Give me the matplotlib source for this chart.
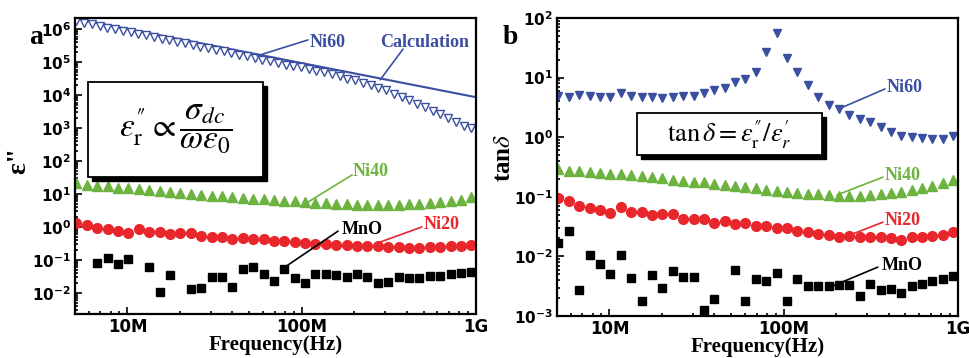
import numpy as np
import matplotlib
matplotlib.use("Agg")
import matplotlib.pyplot as plt
from matplotlib.patches import Rectangle
from matplotlib.ticker import FixedLocator, LogLocator, FuncFormatter, NullFormatter

plt.rcParams['mathtext.fontset'] = 'dejavusans'

# frequency sweep (Hz)
freq = np.geomspace(5.1e6, 9.4e8, 39)
freq_ni60a = np.geomspace(5.1e6, 9.4e8, 52)
calc_freq = [5.0e6, 1.0e9]

# panel a: imaginary permittivity
eps_ni60 = [1.8e6, 1.6e6, 1.4e6, 1.26e6, 1.12e6, 1.02e6, 9.1e5, 8.1e5, 7.2e5, 6.5e5,
            5.9e5, 5.2e5, 4.7e5, 4.2e5, 3.8e5, 3.4e5, 3.0e5, 2.7e5, 2.4e5, 2.15e5,
            1.9e5, 1.7e5, 1.5e5, 1.35e5, 1.2e5, 1.07e5, 9.3e4, 8.5e4, 7.9e4, 7.1e4,
            6.3e4, 5.5e4, 4.9e4, 4.3e4, 3.7e4, 3.2e4, 2.8e4, 2.4e4, 2.0e4, 1.7e4,
            1.4e4, 1.1e4, 8.9e3, 7.1e3, 5.5e3, 4.3e3, 3.3e3, 2.6e3, 2.0e3, 1.55e3,
            1.2e3, 1.0e3]
eps_calc = [2.1e6, 8.7e3]
eps_ni40 = [21, 19, 17.8, 17, 15.8, 14.8, 13.8, 13.2, 12.3, 11.5,
            10.7, 10.0, 9.5, 8.9, 8.5, 8.1, 7.6, 7.2, 6.9, 6.6,
            6.3, 6.0, 5.75, 5.5, 5.25, 5.0, 4.9, 4.8, 4.7, 4.7,
            4.7, 4.8, 4.9, 5.0, 5.25, 5.6, 6.0, 6.8, 7.9]
eps_ni20 = [1.32, 1.15, 0.93, 0.87, 0.76, 0.66, 0.87, 0.71, 0.71, 0.62,
            0.66, 0.66, 0.54, 0.50, 0.50, 0.44, 0.47, 0.44, 0.44, 0.38,
            0.38, 0.35, 0.33, 0.30, 0.30, 0.28, 0.28, 0.26, 0.26, 0.26,
            0.245, 0.245, 0.23, 0.23, 0.245, 0.245, 0.26, 0.26, 0.28]
eps_mno = [np.nan, np.nan, 0.081, 0.115, 0.076, 0.107, np.nan, 0.062, 0.0107, 0.035,
           np.nan, 0.013, 0.014, 0.030, 0.030, 0.015, 0.054, 0.062, 0.038, 0.023,
           0.054, 0.028, 0.020, 0.038, 0.038, 0.035, 0.030, 0.038, 0.030, 0.020,
           0.021, 0.030, 0.028, 0.028, 0.033, 0.033, 0.038, 0.041, 0.044]

# panel b: loss tangent
tan_ni60 = [5.0, 4.7, 5.2, 5.0, 4.8, 4.8, 5.6, 5.0, 4.7, 4.7,
            4.5, 4.8, 5.0, 5.0, 5.6, 6.3, 6.6, 8.3, 9.3, 12.6,
            27, 55, 21, 12.6, 7.6, 4.7, 3.5, 3.0, 2.4, 2.0,
            1.8, 1.5, 1.2, 1.05, 1.02, 0.98, 0.93, 0.95, 1.05]
tan_ni40 = [0.295, 0.275, 0.27, 0.263, 0.25, 0.245, 0.24, 0.234, 0.224, 0.214,
            0.204, 0.195, 0.186, 0.178, 0.174, 0.166, 0.158, 0.151, 0.145, 0.138,
            0.132, 0.126, 0.120, 0.117, 0.112, 0.110, 0.107, 0.105, 0.105, 0.105,
            0.107, 0.110, 0.115, 0.120, 0.129, 0.138, 0.151, 0.170, 0.195]
tan_ni20 = [0.095, 0.085, 0.071, 0.066, 0.059, 0.054, 0.068, 0.056, 0.056, 0.050,
            0.052, 0.052, 0.043, 0.042, 0.042, 0.037, 0.040, 0.035, 0.037, 0.033,
            0.033, 0.030, 0.030, 0.027, 0.026, 0.024, 0.023, 0.021, 0.022, 0.021,
            0.021, 0.021, 0.020, 0.019, 0.021, 0.021, 0.022, 0.023, 0.026]
tan_mno = [0.0166, 0.027, 0.0027, 0.0105, 0.0076, 0.0050, 0.0107, 0.0043, 0.0018, 0.0048,
           0.0030, 0.0056, 0.0045, 0.0045, 0.00126, 0.0019, np.nan, 0.0060, 0.0018, 0.0042,
           0.0038, 0.0052, 0.0018, 0.0042, 0.0032, 0.0032, 0.0032, 0.0033, 0.0033, 0.0022,
           0.0035, 0.0027, 0.0028, 0.0024, 0.0032, 0.0035, 0.0038, 0.0042, 0.0047]

xticks = [1e7, 1e8, 1e9]
xticklabels = ['10M', '100M', '1G']

BLUE = '#3B4FA0'
GREEN = '#6DB33F'
RED = '#E9262B'
BLACK = 'black'
SERIF = 'Liberation Serif'
SANS = 'DejaVu Sans'
DPRIME = '\u2033'
PRIME = '\u2032'


def sci(v, pos):
    return r'$\mathbf{10^{%d}}$' % int(round(np.log10(v)))


def style_axes(ax, ylim, ymajor):
    ax.set_xscale('log')
    ax.set_yscale('log')
    ax.set_xlim(5e6, 1e9)
    ax.set_ylim(*ylim)
    ax.xaxis.set_major_locator(FixedLocator(xticks))
    ax.set_xticklabels(xticklabels, fontsize=12, fontweight='bold', family=SANS)
    ax.xaxis.set_minor_locator(LogLocator(subs=range(2, 10), numticks=20))
    ax.xaxis.set_minor_formatter(NullFormatter())
    ax.yaxis.set_major_locator(FixedLocator(ymajor))
    ax.yaxis.set_major_formatter(FuncFormatter(sci))
    ax.yaxis.set_minor_locator(LogLocator(subs=range(2, 10), numticks=30))
    ax.yaxis.set_minor_formatter(NullFormatter())
    for lab in ax.get_yticklabels():
        lab.set_fontsize(11)
    ax.tick_params(which='both', direction='in', top=False, right=False, width=1.2)
    ax.tick_params(which='major', length=5, pad=3)
    ax.tick_params(which='minor', length=2.5)
    for s in ax.spines.values():
        s.set_linewidth(1.6)
    ax.set_xlabel('Frequency(Hz)', family=SERIF, fontweight='bold', fontsize=15, labelpad=-1)


def shadow_box(ax, x0, y0, x1, y1, text, fs):
    dx, dy = 0.011, 0.014
    ax.add_patch(Rectangle((x0 + dx, y0 - dy), x1 - x0, y1 - y0, transform=ax.transAxes,
                           facecolor='black', edgecolor='black', zorder=5, clip_on=False))
    ax.add_patch(Rectangle((x0, y0), x1 - x0, y1 - y0, transform=ax.transAxes,
                           facecolor='white', edgecolor='black', lw=1.3, zorder=6, clip_on=False))
    ax.text((x0 + x1) / 2, (y0 + y1) / 2, text, transform=ax.transAxes, ha='center', va='center',
            fontsize=fs, math_fontfamily='stix', zorder=7)


def label(ax, text, color, tpos, start, end):
    ax.annotate('', xy=end, xytext=start, xycoords='axes fraction', textcoords='axes fraction',
                arrowprops=dict(arrowstyle='-', color=color, lw=1.2, shrinkA=0, shrinkB=0))
    ax.text(tpos[0], tpos[1], text, transform=ax.transAxes, color=color, family=SERIF,
            fontweight='bold', fontsize=13, ha='left', va='center')


fig = plt.figure(figsize=(9.69, 3.58), dpi=100)
ax1 = fig.add_axes([0.0774, 0.1229, 0.4138, 0.8268])
ax2 = fig.add_axes([0.5748, 0.1173, 0.4138, 0.8324])

# ---- panel a
ax1.plot(calc_freq, eps_calc, color=BLUE, lw=1.5)
ax1.plot(freq_ni60a, eps_ni60, 'v', ms=5.5, mfc='white', mec=BLUE, mew=1.0)
ax1.plot(freq, eps_ni40, '^', ms=6.5, color=GREEN, mec=GREEN)
ax1.plot(freq, eps_ni20, 'o', ms=7, color=RED, mec=RED)
ax1.plot(freq, eps_mno, 's', ms=6, color=BLACK)
style_axes(ax1, (2.3e-3, 2.2e6), [1e-2, 1e-1, 1, 1e1, 1e2, 1e3, 1e4, 1e5, 1e6])

label(ax1, 'Ni60', BLUE, (0.586, 0.916), (0.581, 0.926), (0.454, 0.872))
label(ax1, 'Calculation', BLUE, (0.760, 0.916), (0.818, 0.895), (0.761, 0.791))
label(ax1, 'Ni40', GREEN, (0.693, 0.482), (0.691, 0.470), (0.581, 0.378))
label(ax1, 'MnO', BLACK, (0.666, 0.284), (0.656, 0.280), (0.524, 0.159))
label(ax1, 'Ni20', RED, (0.870, 0.301), (0.865, 0.294), (0.761, 0.243))
formula_a = (r'$\varepsilon_{\rm r}^{' + DPRIME + r'} \propto '
             r'\dfrac{\sigma_{dc}}{\omega\varepsilon_0}$')
shadow_box(ax1, 0.032, 0.463, 0.469, 0.784, formula_a, 24)

# ---- panel b
ax2.plot(freq, tan_ni60, 'v', ms=6, color=BLUE, mec=BLUE)
ax2.plot(freq, tan_ni40, '^', ms=6.5, color=GREEN, mec=GREEN)
ax2.plot(freq, tan_ni20, 'o', ms=7, color=RED, mec=RED)
ax2.plot(freq, tan_mno, 's', ms=6, color=BLACK)
style_axes(ax2, (1e-3, 1e2), [1e-3, 1e-2, 1e-1, 1, 1e1, 1e2])

label(ax2, 'Ni60', BLUE, (0.823, 0.768), (0.818, 0.762), (0.708, 0.698))
label(ax2, 'Ni40', GREEN, (0.818, 0.473), (0.813, 0.466), (0.698, 0.406))
label(ax2, 'Ni20', RED, (0.818, 0.322), (0.813, 0.315), (0.731, 0.272))
label(ax2, 'MnO', BLACK, (0.810, 0.171), (0.800, 0.164), (0.681, 0.097))
formula_b = (r'$\tan\delta = \varepsilon_{\rm r}^{' + DPRIME + r'}/'
             r'\varepsilon_r^{' + PRIME + r'}$')
shadow_box(ax2, 0.1995, 0.540, 0.661, 0.681, formula_b, 19)

# axis titles and panel letters
fig.text(0.019, 0.553, '\u03b5"', rotation=90, ha='center', va='center',
         family=SERIF, fontweight='bold', fontsize=20)
fig.text(0.520, 0.559, r'tan$\delta$', rotation=90, ha='center', va='center',
         family=SERIF, fontweight='bold', fontsize=18, math_fontfamily='stix')
fig.text(0.037, 0.894, 'a', ha='center', va='center', family=SERIF, fontweight='bold', fontsize=20)
fig.text(0.527, 0.894, 'b', ha='center', va='center', family=SERIF, fontweight='bold', fontsize=20)

fig.savefig('out.png', dpi=100)
